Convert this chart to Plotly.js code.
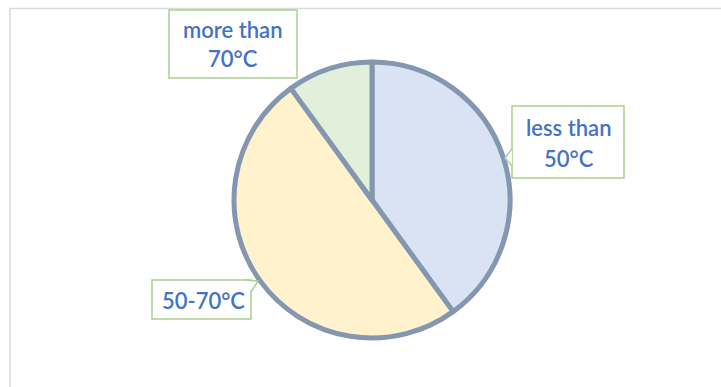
<!DOCTYPE html>
<html>
<head>
<meta charset="utf-8">
<script src="https://cdn.plot.ly/plotly-3.0.1.min.js"></script>
<style>
  html, body { margin: 0; padding: 0; background: #ffffff; }
  #chart { width: 721px; height: 387px; }
</style>
</head>
<body>
<div id="chart"></div>
<script>
// Temperature bands and their shares
const categories = ['less than 50°C', '50-70°C', 'more than 70°C'];
const shares = [40, 50, 10];
const sliceColors = ['#dae3f3', '#fff2cc', '#e2efda'];
// Callout text, one entry per line for each band
const calloutLines = [['less than', '50°C'], ['50-70°C'], ['more than', '70°C']];

const W = 721, H = 387;
const px = x => x / W;          // pixel x -> paper x
const py = y => 1 - y / H;      // pixel y -> paper y

// Pie centre and radius in pixels
const cx = 372, cy = 200, r = 138;

// Callout boxes (pixel rects) and their optional pointer triangles
const boxes = [
  { x0: 512, y0: 106, x1: 624, y1: 178, ptr: [[512, 149], [505, 158], [512, 166]], lines: [[568, 127], [569, 158]] },
  { x0: 152, y0: 280, x1: 251, y1: 319, ptr: [[244, 280], [258, 281], [251, 292]], lines: [[203, 300]] },
  { x0: 169, y0: 10,  x1: 297, y1: 78,  ptr: null, lines: [[233, 29], [233, 59]] }
];

const boxColor = '#a9d18e';
const textColor = '#4472c4';

const shapes = [
  // chart frame: top and left edges
  { type: 'line', xref: 'paper', yref: 'paper', x0: px(10), y0: py(8.5), x1: 1, y1: py(8.5),
    line: { color: '#d9d9d9', width: 1.5 } },
  { type: 'line', xref: 'paper', yref: 'paper', x0: px(10), y0: py(8.5), x1: px(10), y1: 0,
    line: { color: '#d9d9d9', width: 1.5 } }
];

const annotations = [];

boxes.forEach((b, i) => {
  // callout outline: rectangle with a small pointer toward the slice
  let d = `M${px(b.x0)},${py(b.y0)} L${px(b.x1)},${py(b.y0)} L${px(b.x1)},${py(b.y1)} L${px(b.x0)},${py(b.y1)} Z`;
  shapes.push({ type: 'path', xref: 'paper', yref: 'paper', path: d,
    fillcolor: '#ffffff', line: { color: boxColor, width: 1.5 }, layer: 'above' });
  if (b.ptr) {
    const p = b.ptr;
    shapes.push({ type: 'path', xref: 'paper', yref: 'paper',
      path: `M${px(p[0][0])},${py(p[0][1])} L${px(p[1][0])},${py(p[1][1])} L${px(p[2][0])},${py(p[2][1])}`,
      fillcolor: '#ffffff', line: { color: boxColor, width: 1.5 }, layer: 'above' });
  }
  calloutLines[i].forEach((t, j) => {
    annotations.push({
      xref: 'paper', yref: 'paper', x: px(b.lines[j][0]), y: py(b.lines[j][1]),
      xanchor: 'center', yanchor: 'middle', showarrow: false, text: t,
      font: { family: 'Lato, Carlito, sans-serif', size: 22, weight: 600, color: textColor }
    });
  });
});

const trace = {
  type: 'pie',
  labels: categories,
  values: shares,
  sort: false,
  direction: 'clockwise',
  rotation: 0,
  textinfo: 'none',
  hoverinfo: 'skip',
  marker: { colors: sliceColors, line: { color: '#8497b0', width: 5 } },
  domain: { x: [px(cx - r), px(cx + r)], y: [py(cy + r), py(cy - r)] }
};

const layout = {
  width: W, height: H,
  margin: { l: 0, r: 0, t: 0, b: 0 },
  paper_bgcolor: '#ffffff',
  showlegend: false,
  shapes: shapes,
  annotations: annotations
};

Plotly.newPlot('chart', [trace], layout, { displayModeBar: false, staticPlot: true });
</script>
</body>
</html>
